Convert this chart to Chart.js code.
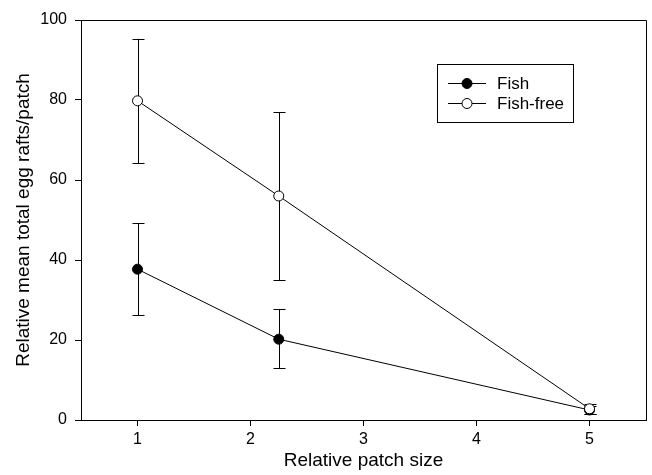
<!DOCTYPE html>
<html>
<head>
<meta charset="utf-8">
<script src="https://cdn.jsdelivr.net/npm/chart.js@4.4.1/dist/chart.umd.min.js"></script>
<style>
  html, body { margin: 0; padding: 0; background: #fff; }
  #wrap { width: 652px; height: 475px; }
</style>
</head>
<body>
<div id="wrap"><canvas id="chart"></canvas></div>
<script>
// Values
const patchSize = [1, 2.25, 5];
const fishMean = [37.7, 20.2, 2.5];
const fishUpper = [49.2, 27.7, 3.6];
const fishLower = [26.2, 12.9, 1.6];
const fishFreeMean = [79.8, 56.0, 2.8];
const fishFreeUpper = [95.3, 76.9, 4.0];
const fishFreeLower = [64.2, 35.0, 1.6];
const xTicks = [1, 2, 3, 4, 5];
const yTicks = [0, 20, 40, 60, 80, 100];

const FONT = "'Liberation Sans', Arial, sans-serif";

function toPoints(xs, ys) {
    return xs.map((x, i) => ({ x: x, y: ys[i] }));
}

// Vertical error bars with caps, drawn under the markers
const errorBars = {
    id: "errorBars",
    beforeDatasetsDraw(chart) {
        const { ctx, scales: { x, y } } = chart;
        const sets = [
            [fishUpper, fishLower],
            [fishFreeUpper, fishFreeLower]
        ];
        ctx.save();
        ctx.strokeStyle = "#000";
        ctx.lineWidth = 1;
        sets.forEach(([hi, lo]) => {
            patchSize.forEach((v, i) => {
                const px = Math.round(x.getPixelForValue(v)) + 0.5;
                const top = y.getPixelForValue(hi[i]);
                const bot = y.getPixelForValue(lo[i]);
                ctx.beginPath();
                ctx.moveTo(px, top);
                ctx.lineTo(px, bot);
                ctx.moveTo(px - 6, Math.round(top) + 0.5);
                ctx.lineTo(px + 6, Math.round(top) + 0.5);
                ctx.moveTo(px - 6, Math.round(bot) + 0.5);
                ctx.lineTo(px + 6, Math.round(bot) + 0.5);
                ctx.stroke();
            });
        });
        ctx.restore();
    }
};

// Top/right frame and the boxed legend inside the plot
const frameAndLegend = {
    id: "frameAndLegend",
    afterDraw(chart) {
        const { ctx, chartArea: a } = chart;
        ctx.save();
        ctx.strokeStyle = "#000";
        ctx.lineWidth = 1;
        ctx.beginPath();
        ctx.moveTo(Math.round(a.left) + 0.5, Math.round(a.top) + 0.5);
        ctx.lineTo(Math.round(a.right) + 0.5, Math.round(a.top) + 0.5);
        ctx.lineTo(Math.round(a.right) + 0.5, Math.round(a.bottom) + 0.5);
        ctx.stroke();

        // legend box
        ctx.strokeRect(437.5, 64.5, 136, 58);
        ctx.font = "17px " + FONT;
        ctx.textBaseline = "middle";
        ctx.fillStyle = "#000";
        chart.data.datasets.forEach((ds, i) => {
            const row = 83 + i * 20;
            ctx.beginPath();
            ctx.moveTo(448, row + 0.5);
            ctx.lineTo(486, row + 0.5);
            ctx.stroke();
            ctx.beginPath();
            ctx.arc(467, row + 0.5, 5, 0, Math.PI * 2);
            ctx.fillStyle = ds.pointBackgroundColor;
            ctx.fill();
            ctx.stroke();
            ctx.fillStyle = "#000";
            ctx.fillText(ds.label, 497, row + 1);
        });
        ctx.restore();
    }
};

new Chart(document.getElementById("chart"), {
    type: "scatter",
    data: {
        datasets: [
            {
                label: "Fish",
                data: toPoints(patchSize, fishMean),
                showLine: true,
                borderColor: "#000",
                borderWidth: 1,
                pointRadius: 5,
                pointBorderWidth: 1,
                pointBorderColor: "#000",
                pointBackgroundColor: "#000",
                order: 2
            },
            {
                label: "Fish-free",
                data: toPoints(patchSize, fishFreeMean),
                showLine: true,
                borderColor: "#000",
                borderWidth: 1,
                pointRadius: 5,
                pointBorderWidth: 1,
                pointBorderColor: "#000",
                pointBackgroundColor: "#fff",
                order: 1
            }
        ]
    },
    options: {
        responsive: true,
        maintainAspectRatio: false,
        animation: false,
        layout: { padding: { top: 20, right: 3, left: 0, bottom: 0 } },
        plugins: {
            legend: { display: false },
            tooltip: { enabled: false }
        },
        scales: {
            x: {
                type: "linear",
                min: 0.5,
                max: 5.5,
                afterBuildTicks: (s) => { s.ticks = xTicks.map(v => ({ value: v })); },
                afterFit: (s) => { s.height = 55; },
                grid: { drawOnChartArea: false, drawTicks: true, tickLength: 6, tickColor: "#000" },
                border: { display: true, color: "#000", width: 1 },
                ticks: { color: "#000", padding: 4, font: { family: FONT, size: 16 } },
                title: {
                    display: true,
                    text: "Relative patch size",
                    color: "#000",
                    padding: { top: 0, bottom: 3 },
                    font: { family: FONT, size: 19 }
                }
            },
            y: {
                type: "linear",
                min: 0,
                max: 100,
                afterBuildTicks: (s) => { s.ticks = yTicks.map(v => ({ value: v })); },
                afterFit: (s) => { s.width = 81; },
                grid: { drawOnChartArea: false, drawTicks: true, tickLength: 6, tickColor: "#000" },
                border: { display: true, color: "#000", width: 1 },
                ticks: { color: "#000", padding: 8, font: { family: FONT, size: 16 } },
                title: {
                    display: true,
                    text: "Relative mean total egg rafts/patch",
                    color: "#000",
                    padding: { top: 12, bottom: 0 },
                    font: { family: FONT, size: 19 }
                }
            }
        }
    },
    plugins: [errorBars, frameAndLegend]
});
</script>
</body>
</html>
